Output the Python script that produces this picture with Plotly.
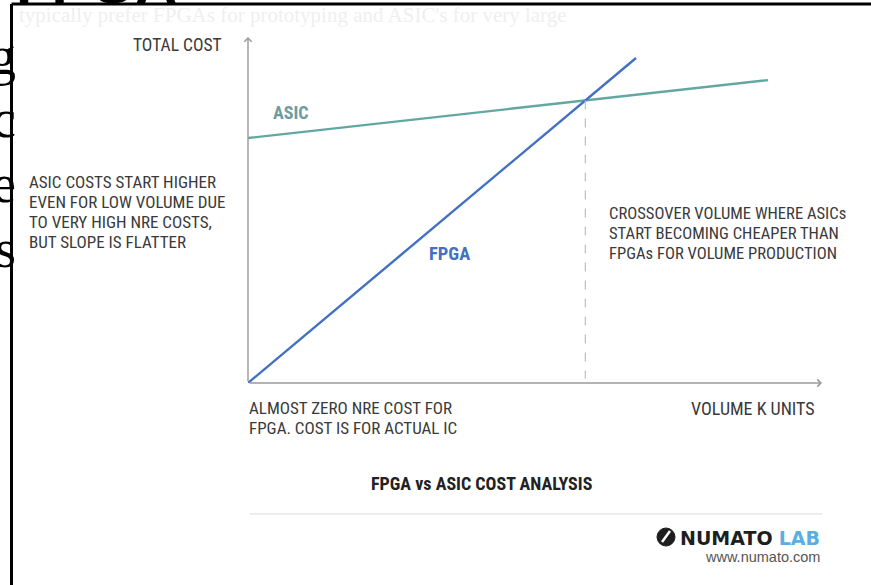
import plotly.graph_objects as go

# ---------------- data ----------------
fpga_volume = [0.0, 6.76]
fpga_cost = [0.0, 9.42]
asic_volume = [0.0, 9.06]
asic_cost = [7.10, 8.78]
x_range = [0, 10]
y_range = [0, 10]

left_note = ["ASIC COSTS START HIGHER", "EVEN FOR LOW VOLUME DUE",
             "TO VERY HIGH NRE COSTS,", "BUT SLOPE IS FLATTER"]
right_note = ["CROSSOVER VOLUME WHERE ASICs", "START BECOMING CHEAPER THAN",
              "FPGAs FOR VOLUME PRODUCTION"]
origin_note = ["ALMOST ZERO NRE COST FOR", "FPGA. COST IS FOR ACTUAL IC"]

# crossover of the two straight lines (derived from the data above)
fs = (fpga_cost[1] - fpga_cost[0]) / (fpga_volume[1] - fpga_volume[0])
as_ = (asic_cost[1] - asic_cost[0]) / (asic_volume[1] - asic_volume[0])
x_cross = (asic_cost[0] - fpga_cost[0]) / (fs - as_)
y_cross = fpga_cost[0] + fs * x_cross

# ---------------- layout geometry ----------------
W, H = 871, 585
L, R, T, B = 248, 49, 38, 202
PW, PH = W - L - R, H - T - B


def px(x):
    return (x - L) / PW


def py(y):
    return (H - B - y) / PH


FONT = "Liberation Sans Narrow, Roboto Condensed, Roboto, sans-serif"
TXT = "#3a3a3a"

fig = go.Figure()
fig.add_trace(go.Scatter(x=asic_volume, y=asic_cost, mode="lines",
                         line=dict(color="#63a7a2", width=2.4),
                         hoverinfo="skip", showlegend=False))
fig.add_trace(go.Scatter(x=fpga_volume, y=fpga_cost, mode="lines",
                         line=dict(color="#4270c2", width=2.4),
                         hoverinfo="skip", showlegend=False))

shapes = [
    # crossover dashed marker
    dict(type="line", xref="x", yref="y", x0=x_cross, x1=x_cross,
         y0=y_cross, y1=0.12, line=dict(color="#c4c4c4", width=1.3, dash="dash")),
    # separator line
    dict(type="line", xref="paper", yref="paper", x0=px(250), x1=px(822),
         y0=py(514), y1=py(514), line=dict(color="#ececec", width=2)),
    # logo icon
    dict(type="circle", xref="paper", yref="paper", x0=px(657), x1=px(675),
         y0=py(546), y1=py(528), line=dict(color="#1e1e1e", width=1),
         fillcolor="#1e1e1e"),
    dict(type="line", xref="paper", yref="paper", x0=px(662), x1=px(670),
         y0=py(542), y1=py(531), line=dict(color="white", width=2.5)),
    # frame of the overlaid picture
    dict(type="line", xref="paper", yref="paper", x0=px(11.5), x1=px(871),
         y0=py(4), y1=py(4), line=dict(color="black", width=3)),
    dict(type="line", xref="paper", yref="paper", x0=px(11.5), x1=px(11.5),
         y0=py(4), y1=py(585), line=dict(color="black", width=3)),
]

ann = []
# axes with arrows
ann.append(dict(x=0, y=y_range[1] * 1.003, ax=0, ay=0, xref="x", yref="y",
                axref="x", ayref="y", text="", showarrow=True, arrowhead=4,
                arrowsize=1, arrowwidth=1.4, arrowcolor="#9a9a9a"))
ann.append(dict(x=x_range[1], y=0, ax=0, ay=0, xref="x", yref="y",
                axref="x", ayref="y", text="", showarrow=True, arrowhead=4,
                arrowsize=1, arrowwidth=1.4, arrowcolor="#9a9a9a"))


def text(t, x, y, xa="left", ya="middle", size=17, color=TXT, family=FONT, align="left"):
    ann.append(dict(text=t, x=px(x), y=py(y), xref="paper", yref="paper",
                    xanchor=xa, yanchor=ya, showarrow=False, align=align,
                    font=dict(family=family, size=size, color=color)))


def para(lines, x, y0, step, size):
    for i, ln in enumerate(lines):
        text(ln, x, y0 + i * step, size=size)


text("TOTAL COST", 224, 45, xa="right", size=17.5)
para(left_note, 27, 182, 20, 17)
para(right_note, 607, 213, 20.3, 16.6)
para(origin_note, 247, 408, 20, 17)
text("<b>ASIC</b>", 271, 112, color="#6d9c9e", size=18)
text("<b>FPGA</b>", 427, 254, color="#4470c0", size=18.5)
text("VOLUME K UNITS", 817, 408, xa="right", size=18)
text("<b>FPGA vs ASIC COST ANALYSIS</b>", 482, 483, xa="center", size=18, color="#222")
text("<b>NUMATO</b> <b><span style='color:#5aaee2'>LAB</span></b>", 822, 538,
     xa="right", size=19, color="#1e1e1e", family="DejaVu Sans")
text("www.numato.com", 822, 557, xa="right", size=14.5, color="#555",
     family="Liberation Sans, Arial, sans-serif")

# fragments of the slide behind the picture
SERIF = "Liberation Serif, DejaVu Serif, serif"
text("typically prefer FPGAs for prototyping and ASIC's for very large", 17, 15,
     size=21, color="#efefef", family=SERIF)
text("<b>FPGA</b>", 14, 17, ya="bottom", size=58, color="black",
     family="Liberation Sans, Arial, sans-serif")
for letter, yc in [("g", 56), ("c", 119), ("e", 184), ("os", 249)]:
    text(letter, 18, yc, xa="right", size=54, color="black", family=SERIF)

fig.update_layout(
    width=W, height=H,
    margin=dict(l=L, r=R, t=T, b=B, pad=0),
    paper_bgcolor="white", plot_bgcolor="white",
    xaxis=dict(range=x_range, visible=False, fixedrange=True),
    yaxis=dict(range=y_range, visible=False, fixedrange=True),
    shapes=shapes, annotations=ann, showlegend=False,
)
fig.write_html("out.html", config={"displayModeBar": False})
